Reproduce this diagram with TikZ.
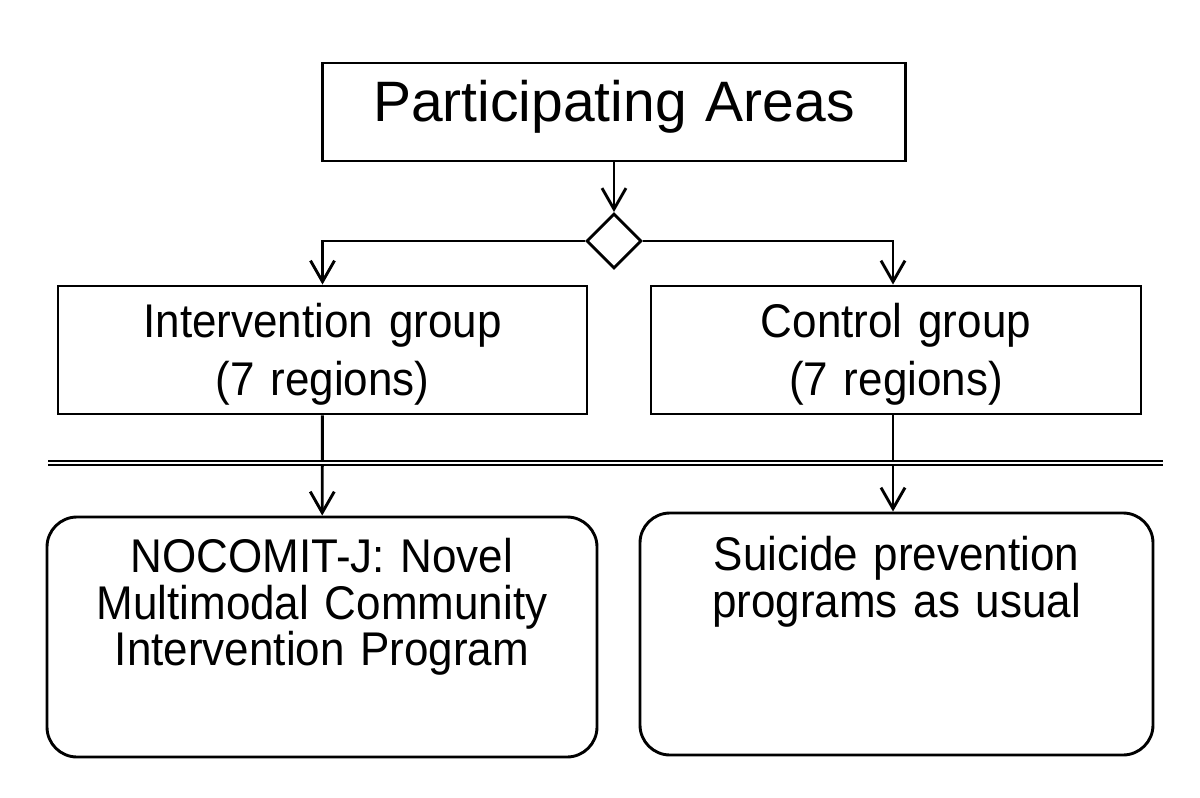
\documentclass[tikz,border=0pt]{standalone}
\usepackage{fontspec}
\setmainfont{Liberation Sans}
\newfontfamily\tallfont{Liberation Sans}[FakeStretch=0.93]
\usetikzlibrary{arrows.meta,shapes.geometric}
\begin{document}
\begin{tikzpicture}[x=1pt,y=-1pt,line width=2.9pt,
  box/.style={draw,rectangle,inner sep=0pt,align=center,font=\tallfont\fontsize{47.3}{58}\selectfont},
  prog/.style={box,rounded corners=30pt,font=\tallfont\fontsize{47.3}{46.5}\selectfont},
  arr/.style={-{Straight Barb[length=21pt,width=24pt]}}]
\useasboundingbox (0,0) rectangle (1200,798);
%%
\node[box,text width=583pt,text height=58.5pt,text depth=39.5pt,
  font=\rmfamily\fontsize{57}{60}\selectfont] (areas) at (614,112) {Participating Areas};
\node[draw,diamond,minimum width=55pt,minimum height=55pt,inner sep=0pt] (split) at (614,241) {};
%%
\node[box,text width=529pt,text height=51.5pt,text depth=76.5pt] (igroup) at (322.5,350)
  {Intervention group\\(7 regions)};
\node[box,text width=490pt,text height=51.5pt,text depth=76.5pt] (cgroup) at (896,350)
  {Control group\\(7 regions)};
%%
\node[prog,text width=550pt,text height=55.5pt,text depth=184.5pt] (iprog) at (322,637)
  {NOCOMIT-J: Novel\\Multimodal Community\\Intervention Program};
\node[prog,text width=513pt,text height=57.5pt,text depth=184.5pt] (cprog) at (896.5,634)
  {Suicide prevention\\programs as usual};
%%
\coordinate (cline) at (893,0);
\draw[arr] (areas) -- (split);
\draw[arr] (split.west) -| (igroup.north);
\draw[arr] (split.east) -| (cgroup.north -| cline);
\draw[arr] (igroup) -- (iprog);
\draw[arr] (cgroup.south -| cline) -- (cprog.north -| cline);
%%
\coordinate (sepl) at (48,463);
\coordinate (sepr) at (1163,463);
\draw[double,line width=1.7pt,double distance=2.4pt] (sepl) -- (sepr);
\end{tikzpicture}
\end{document}
